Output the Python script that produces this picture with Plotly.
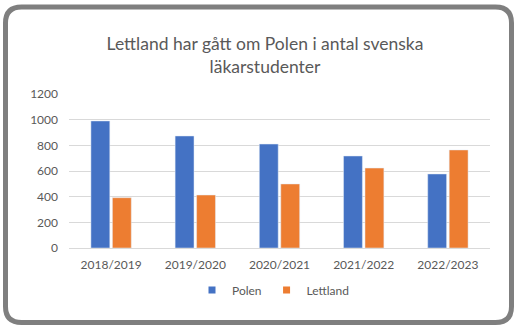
import plotly.graph_objects as go

categories = ["2018/2019", "2019/2020", "2020/2021", "2021/2022", "2022/2023"]
polen = [990, 873, 810, 717, 577]
lettland = [392, 413, 499, 623, 764]
series_names = ["Polen", "Lettland"]
colors = ["#4472C4", "#ED7D31"]

W, H = 517, 328
L, R, T, B = 69, 490, 94, 248  # plot area in pixels

fig = go.Figure()
fig.add_trace(go.Bar(x=categories, y=polen, name=series_names[0], marker_color=colors[0], showlegend=False))
fig.add_trace(go.Bar(x=categories, y=lettland, name=series_names[1], marker_color=colors[1], showlegend=False))
for name, c in zip(series_names, colors):
    fig.add_trace(go.Scatter(x=[None], y=[None], mode="markers", name=name,
                             marker=dict(symbol="square", size=7, color=c)))

def px(x):
    return (x - L) / (R - L)

def py(y):
    return (B - y) / (B - T)

# rounded border
x0, x1, y0, y1, r = 5.5, 511.5, 7.0, 322.5, 16
pts = (
    f"M {px(x0 + r)} {py(y0)} L {px(x1 - r)} {py(y0)} "
    f"Q {px(x1)} {py(y0)} {px(x1)} {py(y0 + r)} "
    f"L {px(x1)} {py(y1 - r)} Q {px(x1)} {py(y1)} {px(x1 - r)} {py(y1)} "
    f"L {px(x0 + r)} {py(y1)} Q {px(x0)} {py(y1)} {px(x0)} {py(y1 - r)} "
    f"L {px(x0)} {py(y0 + r)} Q {px(x0)} {py(y0)} {px(x0 + r)} {py(y0)} Z"
)

fig.update_layout(
    width=W, height=H,
    margin=dict(l=L, r=W - R, t=T, b=H - B, pad=0),
    paper_bgcolor="white", plot_bgcolor="white",
    font=dict(family="Lato, Carlito, Calibri, sans-serif", color="#595959", size=12),
    title=dict(
        text="Lettland har gått om Polen i antal svenska<br>läkarstudenter",
        x=265 / W, xanchor="center", y=1 - 50 / H, yanchor="middle",
        font=dict(size=17.5, color="#595959"),
    ),
    barmode="group", bargap=0.49, bargroupgap=0.12,
    showlegend=True,
    legend=dict(orientation="h", x=px(192), xanchor="left", y=py(290), yanchor="middle",
                font=dict(size=12, color="#595959"), itemwidth=30, traceorder="normal"),
    xaxis=dict(showgrid=False, showline=True, linecolor="#d9d9d9", linewidth=1,
               ticks="", ticklabelstandoff=6, tickfont=dict(size=12)),
    yaxis=dict(range=[0, 1200], dtick=200, showgrid=True, gridcolor="#d9d9d9",
               zeroline=False, ticks="", ticklabelstandoff=10, tickfont=dict(size=12),
               showline=False),
    shapes=[dict(type="path", xref="paper", yref="paper", path=pts,
                 line=dict(color="#7f7f7f", width=5), layer="above")],
)

fig.write_html("out.html")
